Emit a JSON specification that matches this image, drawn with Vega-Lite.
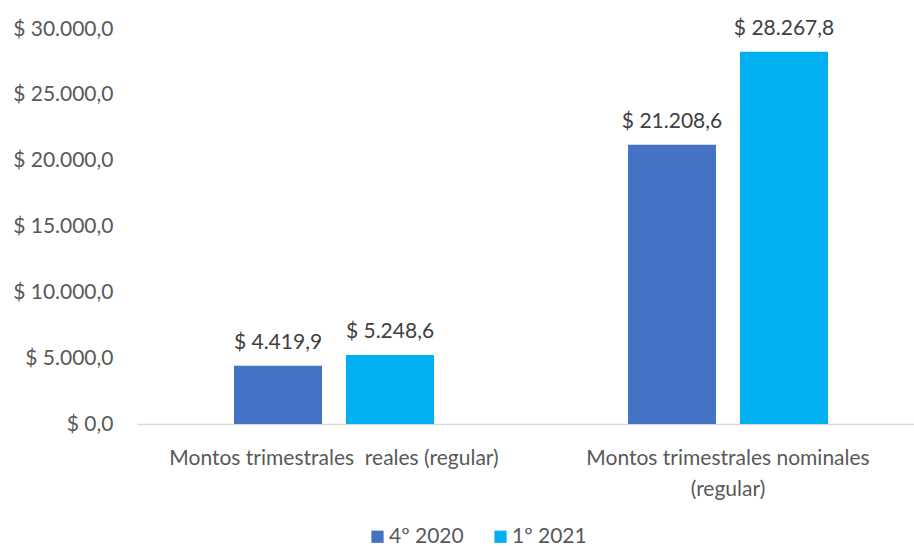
{
  "$schema": "https://vega.github.io/schema/vega-lite/v6.json",
  "autosize": {"type": "none"},
  "padding": {"left": 137, "top": 29, "right": 0, "bottom": 122},
  "width": 788,
  "height": 395,
  "background": "white",
  "config": {
    "locale": {"number": {"decimal": ",", "thousands": ".", "grouping": [3], "currency": ["$ ", ""]}},
    "font": "Lato",
    "view": {"stroke": null}
  },
  "data": {
    "values": [
      {"categoria": "Montos trimestrales  reales (regular)", "periodo": "4º 2020", "monto": 4419.9},
      {"categoria": "Montos trimestrales  reales (regular)", "periodo": "1º 2021", "monto": 5248.6},
      {"categoria": "Montos trimestrales nominales (regular)", "periodo": "4º 2020", "monto": 21208.6},
      {"categoria": "Montos trimestrales nominales (regular)", "periodo": "1º 2021", "monto": 28267.8}
    ]
  },
  "encoding": {
    "x": {
      "field": "categoria", "type": "nominal", "title": null,
      "sort": ["Montos trimestrales  reales (regular)", "Montos trimestrales nominales (regular)"],
      "scale": {"paddingInner": 0, "paddingOuter": 0},
      "axis": {
        "labelAngle": 0, "ticks": false, "domainColor": "#d9d9d9", "domainWidth": 1.5,
        "labelFontSize": 21, "labelColor": "#595959", "labelPadding": 23, "labelLineHeight": 31,
        "labelLimit": 0,
        "labelExpr": "datum.value == 'Montos trimestrales nominales (regular)' ? ['Montos trimestrales nominales', '(regular)'] : replace(datum.value, '  ', ' \u00a0')"
      }
    },
    "xOffset": {
      "field": "periodo", "type": "nominal", "sort": ["4º 2020", "1º 2021"],
      "scale": {"paddingInner": 0.214, "paddingOuter": 0.866}
    },
    "y": {
      "field": "monto", "type": "quantitative", "title": null,
      "scale": {"domain": [0, 30000], "nice": false},
      "axis": {
        "values": [0, 5000, 10000, 15000, 20000, 25000, 30000],
        "format": "$,.1f", "grid": false, "ticks": false, "domain": false,
        "labelFontSize": 21, "labelColor": "#595959", "labelPadding": 24
      }
    }
  },
  "layer": [
    {
      "mark": {"type": "bar"},
      "encoding": {
        "color": {
          "field": "periodo", "type": "nominal", "title": null,
          "sort": ["4º 2020", "1º 2021"],
          "scale": {"domain": ["4º 2020", "1º 2021"], "range": ["#4472C4", "#00B0F0"]},
          "legend": {
            "orient": "none", "legendX": 230, "legendY": 497, "direction": "horizontal", "symbolType": "square",
            "symbolSize": 150, "symbolStrokeWidth": 0, "labelFontSize": 21, "labelColor": "#595959",
            "columnPadding": 26, "labelOffset": 1
          }
        }
      }
    },
    {
      "mark": {"type": "text", "baseline": "bottom", "dy": -13, "fontSize": 21, "color": "#404040"},
      "encoding": {
        "text": {"field": "monto", "type": "quantitative", "format": "$,.1f"}
      }
    }
  ]
}
